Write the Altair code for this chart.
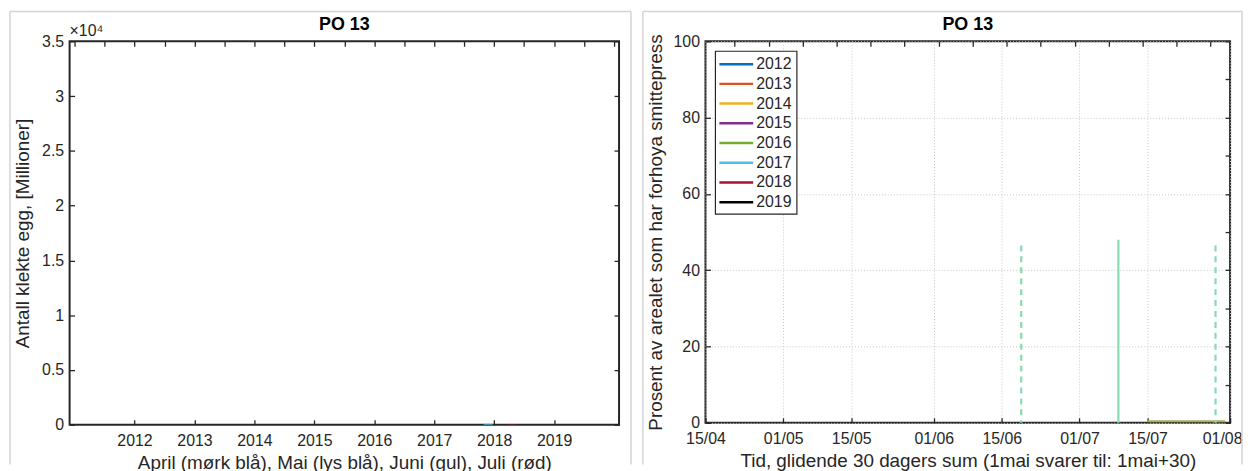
import altair as alt
import pandas as pd

# ---------------- Left panel data ----------------
years = [2012, 2013, 2014, 2015, 2016, 2017, 2018, 2019]
april = [0, 0, 0, 0, 0, 0, 0, 0]
mai = [0, 0, 0, 0, 0, 0, 60, 0]
juni = [0, 0, 0, 0, 0, 0, 0, 0]
juli = [0, 0, 0, 0, 0, 0, 40, 0]
month_names = ["April", "Mai", "Juni", "Juli"]
month_colors = ["#0072BD", "#4DBEEE", "#EDB120", "#A2142F"]
left_yticks = [0, 5000, 10000, 15000, 20000, 25000, 30000, 35000]

# ---------------- Right panel data ----------------
right_ticks = [(4, 15), (5, 1), (5, 15), (6, 1), (6, 15), (7, 1), (7, 15), (8, 1)]
right_yticks = [0, 20, 40, 60, 80, 100]
legend_years = ["2012", "2013", "2014", "2015", "2016", "2017", "2018", "2019"]
legend_colors = ["#0072BD", "#D95319", "#EDB120", "#7E2F8E",
                 "#77AC30", "#4DBEEE", "#A2142F", "#000000"]
spike_dates = ["2019-07-09"]
spike_values = [48]
dashed_dates = ["2019-06-19", "2019-07-29"]
dashed_values = [46.5, 46.5]
s2016_dates = ["2019-07-15", "2019-07-31"]
s2016_values = [0.4, 0.4]

FONT = "Liberation Sans"
TXT = "#262626"
FRAME = "#d4d4d4"
MINT = "#86dbb0"

LW, LH = 553, 386
RW, RH = 528, 384


def axis_style(**kw):
    base = dict(domain=False, tickSize=5, offset=-5, tickColor=TXT, tickWidth=1.3,
                labelFont=FONT, labelFontSize=16, labelColor=TXT, labelFlush=False,
                titleFont=FONT, titleFontSize=19, titleFontWeight="normal",
                titleColor=TXT)
    base.update(kw)
    return alt.Axis(**base)


def mirror_axis(orient):
    return alt.Axis(orient=orient, labels=False, domain=False, tickSize=5,
                    offset=-5, tickColor=TXT, tickWidth=1.3, grid=False, title=None)


def frame_layers(w, left, right):
    d = pd.DataFrame({"a": [0]})
    top = alt.Chart(d).mark_rule(color=FRAME, strokeWidth=1.5).encode(
        x=alt.value(left), x2=alt.value(w + right), y=alt.value(-30))
    lft = alt.Chart(d).mark_rule(color=FRAME, strokeWidth=1.5).encode(
        x=alt.value(left), y=alt.value(-30), y2=alt.value(LH + 40))
    rgt = alt.Chart(d).mark_rule(color=FRAME, strokeWidth=1.5).encode(
        x=alt.value(w + right), y=alt.value(-30), y2=alt.value(LH + 40))
    return [top, lft, rgt]


def title_layer(w):
    d = pd.DataFrame({"t": ["PO 13"]})
    return alt.Chart(d).mark_text(font=FONT, fontSize=18, fontWeight="bold",
                                  color="#000000", baseline="alphabetic",
                                  align="center").encode(
        x=alt.value(w / 2), y=alt.value(-11), text="t:N")


# ---------------- Left chart ----------------
rows = []
for mi, (mname, vals) in enumerate(zip(month_names, [april, mai, juni, juli])):
    for y, v in zip(years, vals):
        rows.append({"year": y, "month": mname, "idx": mi, "value": v})
left_df = pd.DataFrame(rows)

xs_left = alt.Scale(domain=[2011, 2020], nice=False, zero=False)
ys_left = alt.Scale(domain=[0, 35000], nice=False)

bars = alt.Chart(left_df).transform_calculate(
    xpos="datum.year + (datum.idx - 1.5) * 0.2"
).mark_bar(size=9).encode(
    x=alt.X("xpos:Q", scale=xs_left,
            axis=axis_style(values=years, format="d", labelPadding=8,
                            titlePadding=5, grid=False,
                            title="April (mørk blå), Mai (lys blå), Juni (gul), Juli (rød)")),
    y=alt.Y("value:Q", scale=ys_left,
            axis=axis_style(values=left_yticks, labelPadding=6, titlePadding=9,
                            grid=False,
                            labelExpr="datum.value / 10000 + ''",
                            title="Antall klekte egg, [Millioner]")),
    color=alt.Color("month:N", scale=alt.Scale(domain=month_names, range=month_colors),
                    legend=None),
)

left_mirror = alt.Chart(pd.DataFrame({"x": [2015], "v": [0]})).mark_point(opacity=0).encode(
    x=alt.X("x:Q", scale=xs_left, axis=mirror_axis("top")),
    y=alt.Y("v:Q", scale=ys_left, axis=mirror_axis("right")),
)

exp_label = alt.Chart(pd.DataFrame({"t": ["×10⁴"]})).mark_text(
    font=FONT, fontSize=16, color=TXT, align="left", baseline="alphabetic"
).encode(x=alt.value(0), y=alt.value(-5), text="t:N")

left = alt.layer(
    *frame_layers(LW, -60, 12), bars, left_mirror, exp_label, title_layer(LW)
).resolve_axis(x="independent", y="independent").properties(width=LW, height=LH)

# ---------------- Right chart ----------------
def dt(m, d):
    return alt.DateTime(year=2019, month=m, date=d, utc=True)

xs_right = alt.Scale(type="utc", domain=[dt(4, 15), dt(8, 1)], nice=False)
ydom = [0, 100]


def ys_right():
    return alt.Scale(domain=ydom, nice=False)


last_test = "datum.value >= utc(2019, 6, 31)"

s2016_df = pd.DataFrame({"date": s2016_dates, "value": s2016_values})
base_line = alt.Chart(s2016_df).mark_line(color="#a9ab55", strokeWidth=2).encode(
    x=alt.X("date:T", scale=xs_right,
            axis=axis_style(values=[dt(m, d) for m, d in right_ticks], format="%d/%m",
                            labelPadding=8, titlePadding=5, grid=True,
                            labelAlign={"condition": {"test": last_test, "value": "right"},
                                        "value": "center"},
                            labelOffset={"condition": {"test": last_test, "value": 12},
                                         "value": 0},
                            gridColor="#c8c8c8", gridDash=[1, 2], gridWidth=1,
                            title="Tid, glidende 30 dagers sum (1mai svarer til: 1mai+30)")),
    y=alt.Y("value:Q", scale=ys_right(),
            axis=axis_style(values=right_yticks, labelPadding=6, titlePadding=8,
                            grid=True, gridColor="#c8c8c8", gridDash=[1, 2], gridWidth=1,
                            title="Prosent av arealet som har forhoya smittepress")),
)

spike_df = pd.DataFrame({"date": spike_dates, "value": spike_values, "base": [0] * len(spike_dates)})
spike = alt.Chart(spike_df).mark_rule(color=MINT, strokeWidth=2.2).encode(
    x=alt.X("date:T", scale=xs_right, axis=None),
    y=alt.Y("value:Q", scale=ys_right(), axis=None),
    y2="base:Q",
)

dashed_df = pd.DataFrame({"date": dashed_dates, "value": dashed_values, "base": [0] * len(dashed_dates)})
dashed = alt.Chart(dashed_df).mark_rule(color=MINT, strokeWidth=2.2, strokeDash=[6, 5]).encode(
    x=alt.X("date:T", scale=xs_right, axis=None),
    y=alt.Y("value:Q", scale=ys_right(), axis=None),
    y2="base:Q",
)

right_mirror = alt.Chart(pd.DataFrame({"date": ["2019-06-01"], "v": [0]})).mark_point(opacity=0).encode(
    x=alt.X("date:T", scale=xs_right, axis=mirror_axis("top")),
    y=alt.Y("v:Q", scale=ys_right(), axis=mirror_axis("right")),
)

legend_df = pd.DataFrame({"lyear": legend_years})
legend_box = alt.Chart(pd.DataFrame({"a": [0]})).mark_rect(
    fill="white", stroke=TXT, strokeWidth=1.2
).encode(x=alt.value(10), x2=alt.value(92), y=alt.value(10), y2=alt.value(174))

lscale = alt.Scale(type="point", domain=legend_years, range=[23, 162], padding=0)
legend_lines = alt.Chart(legend_df).mark_rule(strokeWidth=2.5).encode(
    x=alt.value(14), x2=alt.value(48),
    y=alt.Y("lyear:O", scale=lscale, axis=None),
    color=alt.Color("lyear:N", scale=alt.Scale(domain=legend_years, range=legend_colors),
                    legend=None),
)
legend_text = alt.Chart(legend_df).mark_text(
    font=FONT, fontSize=16, color=TXT, align="left", baseline="middle"
).encode(
    x=alt.value(51),
    y=alt.Y("lyear:O", scale=lscale, axis=None),
    text="lyear:N",
)

right = alt.layer(
    *frame_layers(RW, -63, 12), base_line, spike, dashed, right_mirror,
    legend_box, legend_lines, legend_text, title_layer(RW)
).resolve_axis(x="independent", y="independent").resolve_scale(
    y="independent", color="independent"
).properties(width=RW, height=RH)

chart = alt.hconcat(left, right, spacing=8).resolve_scale(
    color="independent"
).configure(
    padding=0, background="white"
).configure_view(stroke=TXT, strokeWidth=2)

chart.save("out.html", embed_options={"renderer": "svg", "actions": False})
